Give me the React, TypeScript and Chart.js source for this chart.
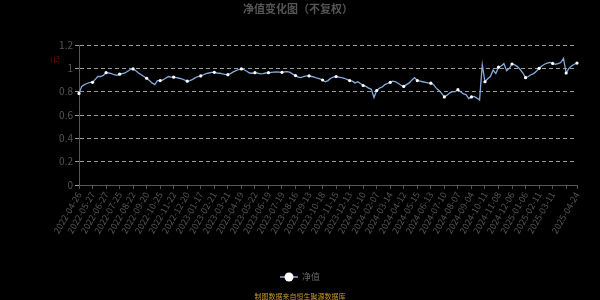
import React, { useEffect, useRef } from "react";
import { Chart, registerables } from "chart.js";

Chart.register(...registerables);

const chartTitle = "净值变化图（不复权）";
const seriesName = "净值";
const yUnit = "元";
const footnote = "制图数据来自恒生聚源数据库";

const tickLabels = [
  "2022-04-26", "2022-05-27", "2022-06-27", "2022-07-25", "2022-08-22", "2022-09-20",
  "2022-10-25", "2022-11-22", "2022-12-20", "2023-01-17", "2023-02-21", "2023-03-21",
  "2023-04-19", "2023-05-22", "2023-06-19", "2023-07-19", "2023-08-16", "2023-09-13",
  "2023-10-18", "2023-11-15", "2023-12-13", "2024-01-10", "2024-02-07", "2024-03-14",
  "2024-04-12", "2024-05-15", "2024-06-13", "2024-07-10", "2024-08-07", "2024-09-04",
  "2024-10-11", "2024-11-08", "2024-12-06", "2025-01-06", "2025-02-11", "2025-03-11",
  "2025-04-24",
];

// points per labelled interval
const STEP = 5;

const yTicks = [0, 0.2, 0.4, 0.6, 0.8, 1.0, 1.2];

const navValues = [
  0.785, 0.845, 0.86, 0.87, 0.88,
  0.88, 0.905, 0.93, 0.93, 0.94,
  0.963, 0.96, 0.955, 0.945, 0.94,
  0.95, 0.955, 0.96, 0.975, 0.99,
  0.995, 0.98, 0.96, 0.945, 0.93,
  0.915, 0.895, 0.875, 0.86, 0.895,
  0.895, 0.9, 0.915, 0.93, 0.925,
  0.924, 0.92, 0.915, 0.91, 0.9,
  0.89, 0.895, 0.905, 0.92, 0.93,
  0.935, 0.945, 0.955, 0.96, 0.965,
  0.966, 0.96, 0.958, 0.952, 0.948,
  0.946, 0.955, 0.97, 0.98, 0.99,
  0.995, 0.988, 0.975, 0.96, 0.958,
  0.963, 0.958, 0.952, 0.955, 0.96,
  0.963, 0.965, 0.968, 0.97, 0.968,
  0.966, 0.97, 0.972, 0.965, 0.95,
  0.938, 0.925, 0.92, 0.93, 0.935,
  0.935, 0.93, 0.925, 0.915, 0.91,
  0.9, 0.885, 0.895, 0.915, 0.925,
  0.93, 0.925, 0.92, 0.915, 0.905,
  0.895, 0.89, 0.875, 0.885, 0.87,
  0.853, 0.845, 0.83, 0.82, 0.75,
  0.81, 0.83, 0.84, 0.86, 0.87,
  0.88, 0.89, 0.885, 0.87, 0.855,
  0.845, 0.86, 0.875, 0.9, 0.92,
  0.895, 0.89, 0.885, 0.88, 0.875,
  0.873, 0.86, 0.83, 0.81, 0.785,
  0.755, 0.77, 0.79, 0.8, 0.8,
  0.817, 0.8, 0.78, 0.775, 0.74,
  0.755, 0.76, 0.745, 0.728, 1.03,
  0.885, 0.91, 0.93, 0.985, 0.955,
  1.01, 1.02, 1.04, 0.98, 1.0,
  1.037, 1.03, 1.015, 0.99, 0.96,
  0.92, 0.93, 0.945, 0.955, 0.975,
  1.0, 1.02, 1.035, 1.045, 1.05,
  1.042, 1.035, 1.04, 1.05, 1.085,
  0.96, 1.0, 1.02, 1.035, 1.045,
];

const LINE_COLOR = "#84aadc";
const TEXT_COLOR = "#555555";
const FONT = "'Noto Sans CJK SC', 'Noto Sans', sans-serif";

export default function App() {
  const canvasRef = useRef<HTMLCanvasElement | null>(null);

  useEffect(() => {
    const canvas = canvasRef.current;
    if (!canvas) return;
    const last = navValues.length - 1;
    const labels = navValues.map((_, i) => {
      if (i === last) return tickLabels[tickLabels.length - 1];
      if (i % STEP === 0 && i / STEP < tickLabels.length - 1) return tickLabels[i / STEP];
      return "";
    });
    const isMarked = (i: number) => i % STEP === 0 || i === last;

    const decor = {
      id: "decor",
      beforeDraw(chart: any) {
        const c = chart.ctx;
        c.save();
        c.fillStyle = "#000";
        c.fillRect(0, 0, chart.width, chart.height);
        c.restore();
      },
      afterDraw(chart: any) {
        const c = chart.ctx;
        c.save();
        // title
        c.fillStyle = TEXT_COLOR;
        c.font = `bold 11px ${FONT}`;
        c.textAlign = "center";
        c.textBaseline = "middle";
        c.fillText(chartTitle, 298, 9);
        // y unit
        c.save();
        c.translate(55, 60);
        c.rotate(-Math.PI / 2);
        c.fillStyle = "#8b0000";
        c.font = `8px ${FONT}`;
        c.fillText(yUnit, 0, 0);
        c.restore();
        // legend
        const ly = 277;
        c.strokeStyle = LINE_COLOR;
        c.lineWidth = 1.5;
        c.beginPath();
        c.moveTo(280, ly);
        c.lineTo(298, ly);
        c.stroke();
        c.fillStyle = "#ffffff";
        c.beginPath();
        c.arc(289, ly, 4.5, 0, Math.PI * 2);
        c.fill();
        c.fillStyle = "#666666";
        c.font = `9px ${FONT}`;
        c.textAlign = "left";
        c.fillText(seriesName, 302, ly);
        // footnote
        c.fillStyle = "#c8962e";
        c.font = `7px ${FONT}`;
        c.textAlign = "center";
        c.fillText(footnote, 300, 296);
        c.restore();
      },
    };

    const chart = new Chart(canvas, {
      type: "line",
      data: {
        labels,
        datasets: [
          {
            label: seriesName,
            data: navValues,
            borderColor: LINE_COLOR,
            borderWidth: 1.3,
            tension: 0,
            pointRadius: (ctx: any) => (isMarked(ctx.dataIndex) ? 1.6 : 0),
            pointHoverRadius: 2,
            pointBackgroundColor: "#ffffff",
            pointBorderColor: "#ffffff",
            pointBorderWidth: 0,
            fill: false,
          },
        ],
      },
      options: {
        responsive: false,
        animation: false,
        devicePixelRatio: 1,
        layout: { padding: { left: 0, right: 23, top: 45, bottom: 0 } },
        plugins: {
          legend: { display: false },
          title: { display: false },
          tooltip: { enabled: false },
        },
        scales: {
          x: {
            type: "category",
            offset: false,
            afterFit: (scale: any) => {
              scale.height = 115;
            },
            grid: {
              display: true,
              drawOnChartArea: false,
              drawTicks: true,
              tickLength: 4,
              tickColor: (ctx: any) => (isMarked(ctx.index) ? TEXT_COLOR : "transparent"),
            },
            border: { display: true, color: TEXT_COLOR, width: 1 },
            ticks: {
              autoSkip: false,
              maxRotation: 60,
              minRotation: 60,
              padding: 1,
              color: TEXT_COLOR,
              font: { size: 9, family: FONT },
            },
          },
          y: {
            min: 0,
            max: 1.2,
            afterFit: (scale: any) => {
              scale.width = 79;
            },
            afterBuildTicks: (scale: any) => {
              scale.ticks = yTicks.map((v) => ({ value: v }));
            },
            grid: {
              color: (ctx: any) => (ctx.tick && ctx.tick.value === 0 ? "transparent" : "#9a9a9a"),
              lineWidth: 1,
              drawTicks: true,
              tickLength: 4,
              tickColor: "#9a9a9a",
              tickBorderDash: [],
            },
            border: { display: true, color: TEXT_COLOR, width: 1, dash: [4, 3] },
            ticks: {
              padding: 2,
              color: TEXT_COLOR,
              font: { size: 10, family: FONT },
              callback: (v: any) => String(Number(Number(v).toFixed(1))),
            },
          },
        },
      },
      plugins: [decor],
    } as any);

    return () => chart.destroy();
  }, []);

  return (
    <div style={{ position: "fixed", left: 0, top: 0, width: 600, height: 300, background: "#000" }}>
      <canvas ref={canvasRef} width={600} height={300} style={{ display: "block" }} />
    </div>
  );
}
